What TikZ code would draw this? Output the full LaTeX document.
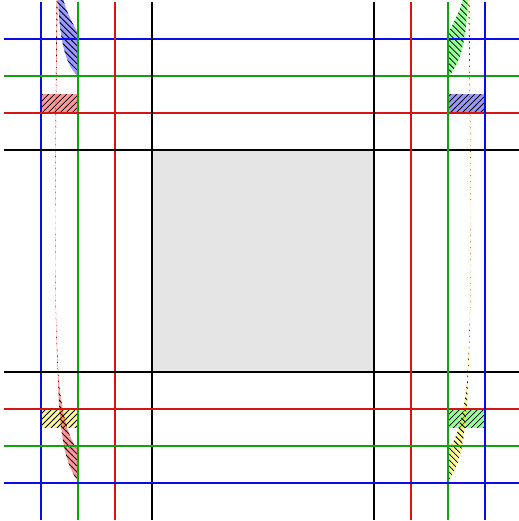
\documentclass[tikz,border=0pt]{standalone}
\usepackage{tikz}
\usetikzlibrary{patterns}
\definecolor{lineblue}{RGB}{10,10,235}
\definecolor{linegreen}{RGB}{20,160,20}
\definecolor{linered}{RGB}{215,20,20}
\tikzset{
  gridline/.style={line width=0.8pt},
  band/.style={fill=#1, fill opacity=0.4, postaction={pattern=north west lines, fill opacity=1}},
  hatchbox/.style={fill=#1, fill opacity=0.4, postaction={pattern=north east lines, fill opacity=1}}
}
\begin{document}
\begin{tikzpicture}[x=0.65cm, y=-0.65cm]
  \useasboundingbox (-0.108,-0.054) rectangle (13.892,14.027);
  \fill[black!10] (4,4) rectangle (10,10);
  \foreach \s/\topcol/\longcol/\upcol/\lowcol in {1/blue/red/red/yellow, -1/green/yellow/blue/green}
  {
    \begin{scope}[shift={({7-7*\s},0)}, xscale=\s]
      \path[hatchbox=\upcol] (1,2.5) rectangle (2,3);
      \path[hatchbox=\lowcol] (1,11) rectangle (2,11.5);
      \path[band=\topcol] (1.46,-0.1) .. controls (1.50,0.9) and (1.63,1.7) .. (2,2)
        -- (2,0.85) .. controls (1.84,0.55) and (1.65,0.2) .. (1.60,-0.1) -- cycle;
      \path[band=\longcol] (1.42,-0.1) .. controls (1.40,2.5) and (1.385,4.5) .. (1.385,6.7)
        .. controls (1.385,8.5) and (1.43,9.5) .. (1.46,10.2)
        .. controls (1.49,11.2) and (1.56,12.4) .. (2,12.95)
        -- (2,12.1) .. controls (1.72,11.8) and (1.55,11) .. (1.48,10.2)
        .. controls (1.44,9.5) and (1.39,8.5) .. (1.39,6.7)
        .. controls (1.39,4.5) and (1.41,2.5) .. (1.45,-0.1) -- cycle;
    \end{scope}
  }
  \foreach \p/\c in {1/lineblue,2/linegreen,3/linered,4/black,10/black,11/linered,12/linegreen,13/lineblue}
  {
    \draw[gridline,\c] (\p,0) -- (\p,14);
    \draw[gridline,\c] (0,\p) -- (14,\p);
  }
\end{tikzpicture}
\end{document}
